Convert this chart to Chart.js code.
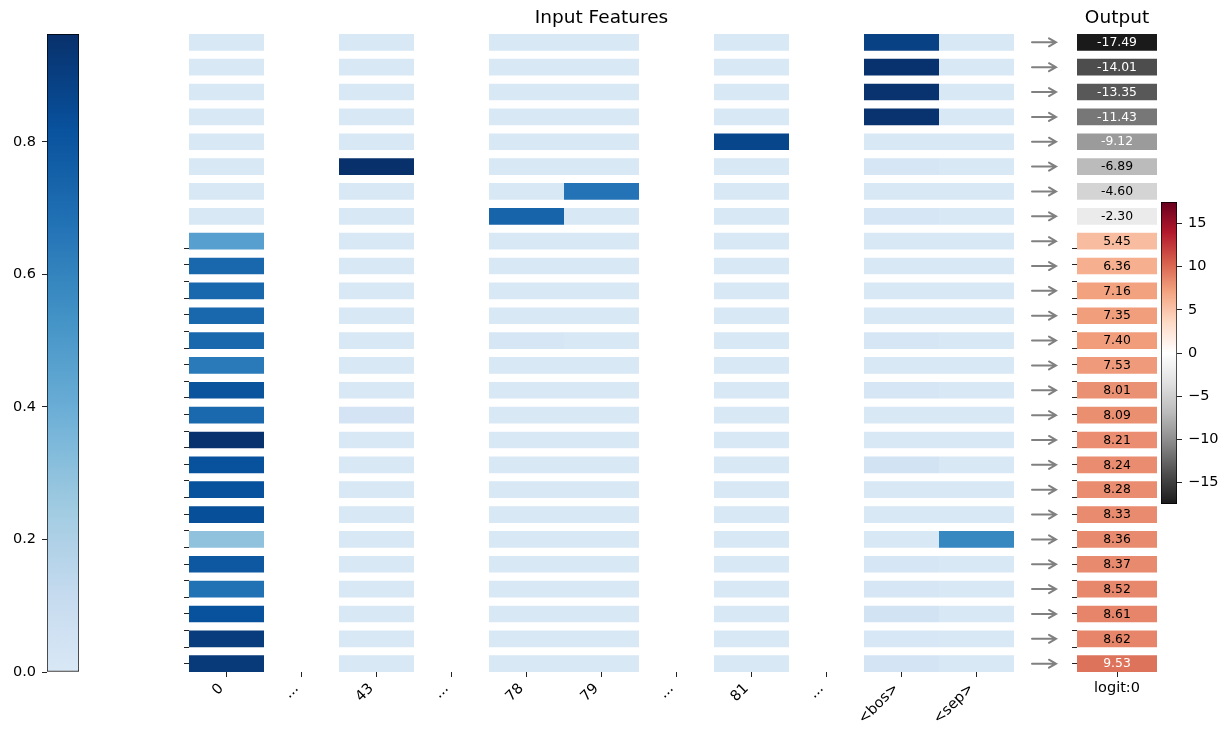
<!DOCTYPE html>
<html>
<head>
<meta charset="utf-8">
<title>Input Features</title>
<script src="https://cdn.jsdelivr.net/npm/chart.js@4.4.0/dist/chart.umd.min.js"></script>
<style>
  html, body { margin: 0; padding: 0; background: #fff; }
  #wrap { position: relative; width: 1226px; height: 732px; overflow: hidden; }
  #wrap canvas { position: absolute; }
</style>
</head>
<body>
<div id="wrap">
  <canvas id="blueBar" width="90" height="732" style="left:0;top:0"></canvas>
  <canvas id="features" width="880" height="732" style="left:150px;top:0"></canvas>
  <canvas id="output" width="150" height="732" style="left:1015px;top:0"></canvas>
  <canvas id="redBar" width="76" height="340" style="left:1150px;top:190px"></canvas>
</div>
<script>
// column tick labels of the feature grid ("..." are gaps)
const colLabels = ['0', '...', '43', '...', '78', '79', '...', '81', '...', '<bos>', '<sep>'];
const outputLabel = 'logit:0';

// one row per example, top to bottom
const outputValues = [-17.49, -14.01, -13.35, -11.43, -9.12, -6.89, -4.60, -2.30, 5.45, 6.36,
  7.16, 7.35, 7.40, 7.53, 8.01, 8.09, 8.21, 8.24, 8.28, 8.33, 8.36, 8.37, 8.52, 8.61, 8.62, 9.53];

// feature activations per column, same row order
const feat0 = [0, 0, 0, 0, 0, 0, 0, 0, 0.47, 0.725, 0.725, 0.725, 0.725, 0.64, 0.81, 0.72,
  0.955, 0.82, 0.82, 0.83, 0.295, 0.79, 0.68, 0.82, 0.91, 0.925];
const feat43 = [0, 0, 0, 0, 0, 0.963, 0, 0, 0, 0, 0, 0, 0, 0, 0, 0.03,
  0, 0, 0, 0, 0, 0, 0, 0, 0, 0];
const feat78 = [0, 0, 0, 0, 0, 0, 0, 0.736, 0, 0, 0, 0, 0.02, 0, 0, 0,
  0, 0, 0, 0, 0, 0, 0, 0, 0, 0];
const feat79 = [0, 0, 0, 0, 0, 0, 0.67, 0, 0, 0, 0, 0, 0, 0, 0, 0,
  0, 0, 0, 0, 0, 0, 0, 0, 0, 0];
const feat81 = [0, 0, 0, 0, 0.87, 0, 0, 0, 0, 0, 0, 0, 0, 0, 0, 0,
  0, 0, 0, 0, 0, 0, 0, 0, 0, 0];
const featBos = [0.89, 0.955, 0.95, 0.95, 0, 0.02, 0, 0.02, 0, 0, 0, 0, 0.02, 0, 0.02, 0,
  0, 0.04, 0, 0, 0, 0.02, 0.02, 0.04, 0.01, 0.03];
const featSep = [0, 0, 0, 0, 0, 0, 0, 0, 0, 0, 0, 0, 0, 0, 0, 0,
  0, 0, 0, 0, 0.585, 0, 0, 0, 0, 0];

const featureColumns = [['0', feat0], ['43', feat43], ['78', feat78], ['79', feat79],
  ['81', feat81], ['<bos>', featBos], ['<sep>', featSep]];

// colorbar ranges and ticks
const BLUE_MAX = 0.963;
const blueTicks = [0, 0.2, 0.4, 0.6, 0.8];
const OUT_MIN = -17.49, OUT_MAX = 17.49;
const redTicks = [-15, -10, -5, 0, 5, 10, 15];

// colormaps
const BLUES = ['#f7fbff', '#deebf7', '#c6dbef', '#9ecae1', '#6baed6', '#4292c6', '#2171b5', '#08519c', '#08306b'];
const RDGY_R = ['#1a1a1a', '#4d4d4d', '#878787', '#bababa', '#e0e0e0', '#ffffff',
  '#fddbc7', '#f4a582', '#d6604d', '#b2182b', '#67001f'];

function hexRgb(h) {
  return [parseInt(h.slice(1, 3), 16), parseInt(h.slice(3, 5), 16), parseInt(h.slice(5, 7), 16)];
}
function sampleRgb(stops, t) {
  t = Math.max(0, Math.min(1, t));
  const p = t * (stops.length - 1);
  const i = Math.min(Math.floor(p), stops.length - 2);
  const f = p - i;
  const a = hexRgb(stops[i]), b = hexRgb(stops[i + 1]);
  return a.map((c, k) => Math.round(c + (b[k] - c) * f));
}
function rgbStr(c) { return 'rgb(' + c.join(',') + ')'; }
function blueColor(v) { return rgbStr(sampleRgb(BLUES, 0.15 + 0.85 * v / BLUE_MAX)); }
function redRgb(v) { return sampleRgb(RDGY_R, (v - OUT_MIN) / (OUT_MAX - OUT_MIN)); }
function labelColor(v) {
  const c = redRgb(v);
  return 0.299 * c[0] + 0.587 * c[1] + 0.114 * c[2] < 157 ? '#fff' : '#000';
}
function barGradient(chart, fn) {
  const a = chart.chartArea;
  if (!a) return null;
  const g = chart.ctx.createLinearGradient(0, a.bottom, 0, a.top);
  for (let i = 0; i <= 40; i++) g.addColorStop(i / 40, rgbStr(fn(i / 40)));
  return g;
}

Chart.defaults.font.family = '"DejaVu Sans", sans-serif';
Chart.defaults.color = '#000';

const TICK = { drawOnChartArea: false, tickLength: 5, color: '#222', lineWidth: 1 };
const common = {
  responsive: false, animation: false, devicePixelRatio: 1, events: []
};
const titleFont = { size: 18.5, weight: 'normal' };
const titlePad = { top: 6.9, bottom: 4.9 };

// fixed axis width, no extra padding for overhanging labels
function fixWidth(w) {
  return s => { s.width = w; s.paddingTop = 0; s.paddingBottom = 0; };
}

// hidden row axis shared by the grid and the output column
function rowAxis() {
  return {
    type: 'linear', display: false, reverse: true, bounds: 'data', offset: false,
    grid: { offset: false },
    min: -0.335, max: outputValues.length - 1 + 0.335,
    afterBuildTicks: s => { s.ticks = outputValues.map((_, i) => ({ value: i })); }
  };
}
function markAxis(width) {
  return {
    type: 'linear', position: 'left', min: 0, max: 38.4, bounds: 'data', offset: false,
    afterBuildTicks: s => { s.ticks = outputValues.map((_, i) => ({ value: i })); },
    afterFit: fixWidth(width),
    ticks: { display: false },
    grid: TICK,
    border: { display: false }
  };
}

// left colorbar
new Chart(document.getElementById('blueBar'), {
  type: 'bar',
  data: {
    labels: [''],
    datasets: [{
      data: [[0, BLUE_MAX]],
      backgroundColor: c => barGradient(c.chart, s => sampleRgb(BLUES, 0.15 + 0.85 * s)),
      borderColor: '#000', borderWidth: 1, borderSkipped: false,
      barPercentage: 1, categoryPercentage: 1
    }]
  },
  options: Object.assign({}, common, {
    layout: { padding: { top: 34, bottom: 60, right: 11, left: 0 } },
    plugins: { legend: { display: false }, tooltip: { enabled: false } },
    scales: {
      x: { display: false },
      y: {
        type: 'linear', min: 0, max: BLUE_MAX, bounds: 'data',
        afterBuildTicks: s => { s.ticks = blueTicks.map(v => ({ value: v })); },
        afterFit: fixWidth(47),
        ticks: { callback: v => v.toFixed(1), font: { size: 14.5 }, padding: 6 },
        grid: TICK,
        border: { display: false }
      }
    }
  })
});

// feature grid
new Chart(document.getElementById('features'), {
  type: 'bar',
  data: {
    datasets: featureColumns.map(([name, vals]) => {
      const c = colLabels.indexOf(name);
      return {
        label: name,
        data: vals.map((v, r) => ({ x: [c, c + 1], y: r })),
        backgroundColor: vals.map(blueColor),
        borderWidth: 0, grouped: false, barPercentage: 0.67, categoryPercentage: 1
      };
    })
  },
  options: Object.assign({}, common, {
    indexAxis: 'y',
    layout: { padding: { top: 0, bottom: 0, left: 0, right: 16 } },
    plugins: {
      legend: { display: false }, tooltip: { enabled: false },
      title: {
        display: true, fullSize: false, text: 'Input Features',
        font: titleFont, color: '#000', padding: titlePad
      }
    },
    scales: {
      y: rowAxis(),
      yt: markAxis(39),
      x: {
        type: 'linear', min: 0, max: colLabels.length, bounds: 'data', offset: false,
        afterBuildTicks: s => { s.ticks = colLabels.map((_, i) => ({ value: i + 0.5 })); },
        afterFit: s => { s.height = 60; s.paddingLeft = 0; s.paddingRight = 0; },
        ticks: {
          autoSkip: false, minRotation: 45, maxRotation: 45, padding: -2,
          // trailing en space pulls the rotated text left of its tick, like ha='right'
          callback: (v, i) => colLabels[i] + '\u2002', font: { size: 14.5 }
        },
        grid: TICK,
        border: { display: false }
      }
    }
  })
});

// output column with arrows and value labels
const rowArrows = {
  id: 'rowArrows',
  afterDraw(chart) {
    const ctx = chart.ctx, ys = chart.scales.y, left = chart.chartArea.left;
    ctx.save();
    ctx.strokeStyle = '#808080';
    ctx.lineWidth = 2;
    ctx.lineCap = 'round';
    outputValues.forEach((_, r) => {
      const py = ys.getPixelForValue(r);
      const x0 = left - 45, x1 = left - 21;
      ctx.beginPath();
      ctx.moveTo(x0, py); ctx.lineTo(x1, py);
      ctx.moveTo(x1 - 7, py - 4); ctx.lineTo(x1, py); ctx.lineTo(x1 - 7, py + 4);
      ctx.stroke();
    });
    ctx.restore();
  }
};
const valueLabels = {
  id: 'valueLabels',
  afterDatasetsDraw(chart) {
    const ctx = chart.ctx;
    ctx.save();
    ctx.font = '12.4px "DejaVu Sans", sans-serif';
    ctx.textAlign = 'center';
    ctx.textBaseline = 'middle';
    chart.getDatasetMeta(0).data.forEach((bar, i) => {
      const p = bar.getCenterPoint();
      ctx.fillStyle = labelColor(outputValues[i]);
      ctx.fillText(outputValues[i].toFixed(2), p.x, p.y + 0.5);
    });
    ctx.restore();
  }
};

new Chart(document.getElementById('output'), {
  type: 'bar',
  data: {
    datasets: [{
      label: outputLabel,
      data: outputValues.map((v, r) => ({ x: [0, 1], y: r })),
      backgroundColor: outputValues.map(v => rgbStr(redRgb(v))),
      borderWidth: 0, grouped: false, barPercentage: 0.67, categoryPercentage: 1
    }]
  },
  options: Object.assign({}, common, {
    indexAxis: 'y',
    layout: { padding: { top: 0, bottom: 0, left: 0, right: 8 } },
    plugins: {
      legend: { display: false }, tooltip: { enabled: false },
      title: {
        display: true, fullSize: false, text: 'Output',
        font: titleFont, color: '#000', padding: titlePad
      }
    },
    scales: {
      y: rowAxis(),
      yt: markAxis(62),
      x: {
        type: 'linear', min: 0, max: 1, bounds: 'data', offset: false,
        afterBuildTicks: s => { s.ticks = [{ value: 0.5 }]; },
        afterFit: s => { s.height = 60; s.paddingLeft = 0; s.paddingRight = 0; },
        ticks: { autoSkip: false, minRotation: 0, maxRotation: 0, padding: 3, callback: () => outputLabel, font: { size: 14.5 } },
        grid: TICK,
        border: { display: false }
      }
    }
  }),
  plugins: [rowArrows, valueLabels]
});

// right colorbar
new Chart(document.getElementById('redBar'), {
  type: 'bar',
  data: {
    labels: [''],
    datasets: [{
      data: [[OUT_MIN, OUT_MAX]],
      backgroundColor: c => barGradient(c.chart, s => sampleRgb(RDGY_R, s)),
      borderColor: '#000', borderWidth: 1, borderSkipped: false,
      barPercentage: 1, categoryPercentage: 1
    }]
  },
  options: Object.assign({}, common, {
    layout: { padding: { top: 12, bottom: 26, left: 11, right: 0 } },
    plugins: { legend: { display: false }, tooltip: { enabled: false } },
    scales: {
      x: { display: false },
      y: {
        type: 'linear', position: 'right', min: OUT_MIN, max: OUT_MAX, bounds: 'data',
        afterBuildTicks: s => { s.ticks = redTicks.map(v => ({ value: v })); },
        afterFit: fixWidth(49),
        ticks: {
          font: { size: 14.5 }, padding: 6,
          callback: v => v < 0 ? '\u2212' + Math.abs(v) : String(v)
        },
        grid: TICK,
        border: { display: false }
      }
    }
  })
});
</script>
</body>
</html>
